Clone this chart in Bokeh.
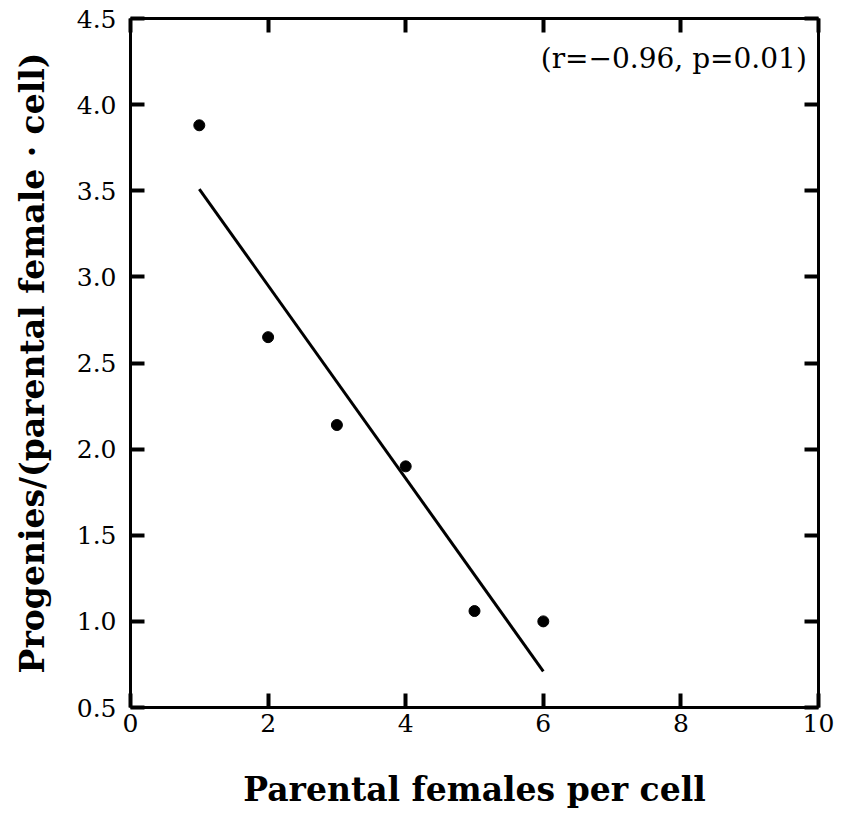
from bokeh.plotting import figure
from bokeh.models import Range1d, LinearAxis, FixedTicker, Label, NumeralTickFormatter
from bokeh.embed import file_html
from bokeh.resources import INLINE

# data
females_per_cell = [1, 2, 3, 4, 5, 6]
progenies = [3.88, 2.65, 2.14, 1.90, 1.06, 1.00]
fit_x = [1, 6]
fit_y = [3.51, 0.71]
x_ticks = [0, 2, 4, 6, 8, 10]
y_ticks = [0.5, 1.0, 1.5, 2.0, 2.5, 3.0, 3.5, 4.0, 4.5]
stat_text = "(r=\u22120.96, p=0.01)"

SERIF = "DejaVu Serif"

p = figure(width=841, height=817, output_backend="svg", toolbar_location=None,
           x_range=Range1d(0, 10), y_range=Range1d(0.5, 4.5),
           x_axis_label="Parental females per cell",
           y_axis_label="Progenies/(parental female \u00b7 cell)",
           min_border_left=130, min_border_right=23,
           min_border_top=18, min_border_bottom=110)
p.frame_width = 688
p.frame_height = 689
p.grid.visible = False
p.outline_line_color = None
p.background_fill_color = "white"
p.border_fill_color = "white"

xa = p.xaxis[0]
ya = p.yaxis[0]
xa.ticker = FixedTicker(ticks=x_ticks)
ya.ticker = FixedTicker(ticks=y_ticks)
ya.formatter = NumeralTickFormatter(format="0.0")
for ax in (xa, ya):
    ax.axis_line_width = 3
    ax.major_tick_in = 14
    ax.major_tick_out = 0
    ax.major_tick_line_width = 4
    ax.minor_tick_line_color = None
    ax.major_label_text_font = SERIF
    ax.major_label_text_font_size = "25px"
    ax.major_label_text_color = "black"
    ax.axis_label_text_font = SERIF
    ax.axis_label_text_font_style = "bold"
    ax.axis_label_text_font_size = "33px"
    ax.axis_label_text_color = "black"
xa.major_label_standoff = 6
xa.axis_label_standoff = 35
ya.major_label_standoff = 14
ya.axis_label_standoff = 22

top = LinearAxis(ticker=FixedTicker(ticks=x_ticks),
                 major_label_overrides={t: "" for t in x_ticks})
right = LinearAxis(ticker=FixedTicker(ticks=y_ticks),
                   major_label_overrides={t: "" for t in y_ticks})
for ax in (top, right):
    ax.axis_line_width = 3
    ax.major_tick_in = 14
    ax.major_tick_out = 0
    ax.major_tick_line_width = 4
    ax.minor_tick_line_color = None
    ax.major_label_standoff = 0
p.add_layout(top, "above")
p.add_layout(right, "right")

p.line(fit_x, fit_y, line_color="black", line_width=3)
p.scatter(females_per_cell, progenies, size=11, fill_color="black", line_color="black")

p.add_layout(Label(x=9.83, y=4.27, text=stat_text, text_align="right",
                   text_baseline="middle", text_font=SERIF,
                   text_font_size="28px", text_color="black"))

open("out.html", "w").write(file_html(p, INLINE))
